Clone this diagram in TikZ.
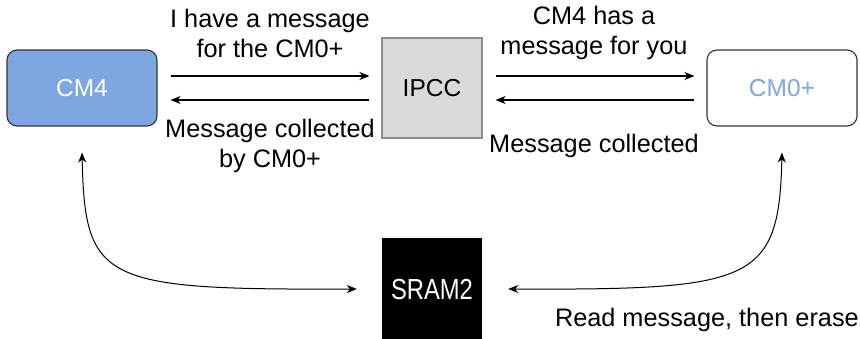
\documentclass[tikz,border=0pt]{standalone}
\usepackage{fontspec}
\usepackage{graphicx}
\setmainfont{Liberation Sans}
\usetikzlibrary{arrows.meta}
\definecolor{cmblue}{HTML}{7EA6E0}
\definecolor{ipccfill}{HTML}{DADADA}
\definecolor{ipccline}{HTML}{8C8C8C}
\tikzset{
  lbl/.style={font=\fontsize{25.3}{30}\selectfont, align=center, inner sep=0pt},
  corebox/.style={draw=black!80, line width=1.1pt, rounded corners=10pt, minimum width=150pt, minimum height=76pt, inner sep=0pt, font=\fontsize{24.5}{30}\selectfont},
  arr/.style={-{Stealth[length=10pt,width=8pt,inset=3pt]}, line width=1.1pt},
  darr/.style={{Stealth[length=10pt,width=8pt,inset=3pt]}-{Stealth[length=10pt,width=8pt,inset=3pt]}, line width=1pt}
}
\begin{document}
\begin{tikzpicture}[x=1pt,y=-1pt]
\useasboundingbox[fill=white] (0,0) rectangle (860,338);
\node[corebox, fill=cmblue, text=white] (cm4) at (82,88) {CM4};
\node[corebox, fill=white, text=cmblue] (cm0) at (782,88) {CM0+};
\node[draw=ipccline, fill=ipccfill, line width=1.1pt, minimum width=100pt, minimum height=100pt, inner sep=0pt, font=\fontsize{24.5}{30}\selectfont] (ipcc) at (432,88) {IPCC};
\node[fill=black, text=white, minimum width=100pt, minimum height=104pt, inner sep=0pt, font=\fontsize{29}{30}\selectfont] (sram) at (432,290) {\raisebox{-2pt}{\scalebox{0.82}[1]{SRAM2}}};

\draw[arr] ([xshift=13pt,yshift=12pt]cm4.east) -- ([xshift=-12pt,yshift=12pt]ipcc.west);
\draw[arr] ([xshift=-12pt,yshift=-12pt]ipcc.west) -- ([xshift=13pt,yshift=-12pt]cm4.east);
\draw[arr] ([xshift=13pt,yshift=12pt]ipcc.east) -- ([xshift=-12pt,yshift=12pt]cm0.west);
\draw[arr] ([xshift=-12pt,yshift=-12pt]cm0.west) -- ([xshift=13pt,yshift=-12pt]ipcc.east);

\node[lbl] (l1) at (270,33) {I have a message\\for the CM0+};
\node[lbl] (l2) at (270,146) {Message collected\\by CM0+};
\node[lbl] (l3) at (594,33) {CM4 has a\\message for you};
\node[lbl] (l4) at (594,146) {Message collected};
\node[lbl, anchor=east] (l5) at (859,320) {Read message, then erase};

\draw[darr] ([yshift=-26pt]cm4.south) .. controls +(3,130) and +(-255,1) .. ([xshift=-25pt,yshift=1pt]sram.west);
\draw[darr] ([yshift=-26pt]cm0.south) .. controls +(-3,130) and +(245,1) .. ([xshift=26pt,yshift=1pt]sram.east);
\end{tikzpicture}
\end{document}
